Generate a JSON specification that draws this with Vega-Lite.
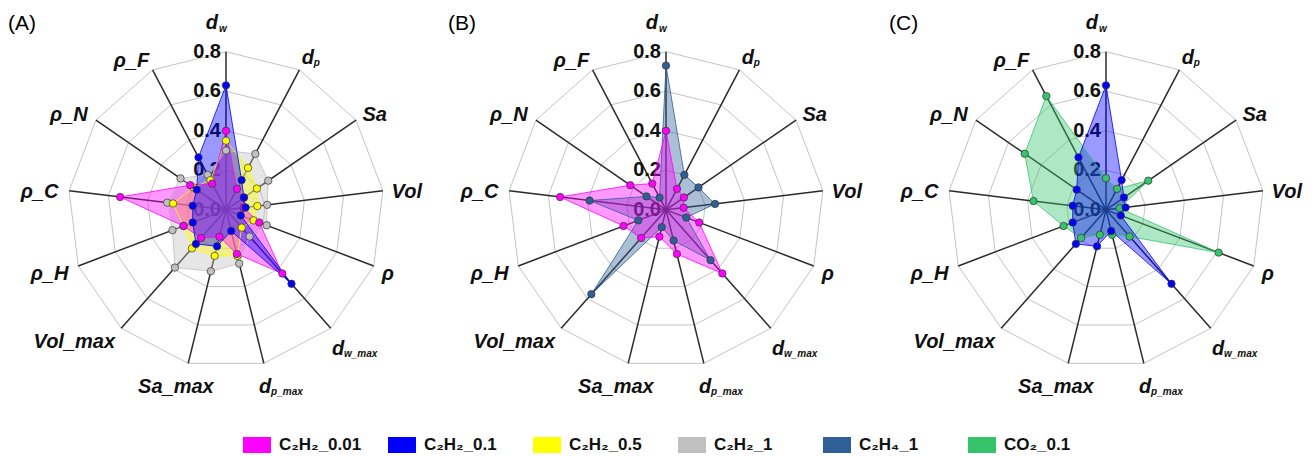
{
"$schema":"https://vega.github.io/schema/vega-lite/v6.json",
"padding":{"left":8,"top":12,"right":0,"bottom":0},
"spacing":30,
"bounds":"flush",
"datasets":{
"axes":[
{"idx":0,"main":"d","sub":"w","grid":[0.2,0.4,0.6,0.8]},
{"idx":1,"main":"d","sub":"p","grid":[0.2,0.4,0.6,0.8]},
{"idx":2,"main":"Sa","sub":"","grid":[0.2,0.4,0.6,0.8]},
{"idx":3,"main":"Vol","sub":"","grid":[0.2,0.4,0.6,0.8]},
{"idx":4,"main":"ρ","sub":"","grid":[0.2,0.4,0.6,0.8]},
{"idx":5,"main":"d","sub":"w_max","grid":[0.2,0.4,0.6,0.8]},
{"idx":6,"main":"d","sub":"p_max","grid":[0.2,0.4,0.6,0.8]},
{"idx":7,"main":"Sa_max","sub":"","grid":[0.2,0.4,0.6,0.8]},
{"idx":8,"main":"Vol_max","sub":"","grid":[0.2,0.4,0.6,0.8]},
{"idx":9,"main":"ρ_H","sub":"","grid":[0.2,0.4,0.6,0.8]},
{"idx":10,"main":"ρ_C","sub":"","grid":[0.2,0.4,0.6,0.8]},
{"idx":11,"main":"ρ_N","sub":"","grid":[0.2,0.4,0.6,0.8]},
{"idx":12,"main":"ρ_F","sub":"","grid":[0.2,0.4,0.6,0.8]}
],
"ringvals":[{"level":0},{"level":0.2},{"level":0.4},{"level":0.6},{"level":0.8}],
"radar":[
{"panel":"A","series":"C₂H₂_1","idx":0,"value":0.30},{"panel":"A","series":"C₂H₂_1","idx":1,"value":0.32},{"panel":"A","series":"C₂H₂_1","idx":2,"value":0.26},{"panel":"A","series":"C₂H₂_1","idx":3,"value":0.21},{"panel":"A","series":"C₂H₂_1","idx":4,"value":0.22},{"panel":"A","series":"C₂H₂_1","idx":5,"value":0.18},{"panel":"A","series":"C₂H₂_1","idx":6,"value":0.28},{"panel":"A","series":"C₂H₂_1","idx":7,"value":0.32},{"panel":"A","series":"C₂H₂_1","idx":8,"value":0.39},{"panel":"A","series":"C₂H₂_1","idx":9,"value":0.29},{"panel":"A","series":"C₂H₂_1","idx":10,"value":0.30},{"panel":"A","series":"C₂H₂_1","idx":11,"value":0.28},{"panel":"A","series":"C₂H₂_1","idx":12,"value":0.20},
{"panel":"A","series":"C₂H₂_0.5","idx":0,"value":0.35},{"panel":"A","series":"C₂H₂_0.5","idx":1,"value":0.24},{"panel":"A","series":"C₂H₂_0.5","idx":2,"value":0.19},{"panel":"A","series":"C₂H₂_0.5","idx":3,"value":0.16},{"panel":"A","series":"C₂H₂_0.5","idx":4,"value":0.15},{"panel":"A","series":"C₂H₂_0.5","idx":5,"value":0.12},{"panel":"A","series":"C₂H₂_0.5","idx":6,"value":0.24},{"panel":"A","series":"C₂H₂_0.5","idx":7,"value":0.24},{"panel":"A","series":"C₂H₂_0.5","idx":8,"value":0.26},{"panel":"A","series":"C₂H₂_0.5","idx":9,"value":0.23},{"panel":"A","series":"C₂H₂_0.5","idx":10,"value":0.27},{"panel":"A","series":"C₂H₂_0.5","idx":11,"value":0.20},{"panel":"A","series":"C₂H₂_0.5","idx":12,"value":0.17},
{"panel":"A","series":"C₂H₂_0.01","idx":0,"value":0.40},{"panel":"A","series":"C₂H₂_0.01","idx":1,"value":0.12},{"panel":"A","series":"C₂H₂_0.01","idx":2,"value":0.11},{"panel":"A","series":"C₂H₂_0.01","idx":3,"value":0.09},{"panel":"A","series":"C₂H₂_0.01","idx":4,"value":0.18},{"panel":"A","series":"C₂H₂_0.01","idx":5,"value":0.43},{"panel":"A","series":"C₂H₂_0.01","idx":6,"value":0.23},{"panel":"A","series":"C₂H₂_0.01","idx":7,"value":0.14},{"panel":"A","series":"C₂H₂_0.01","idx":8,"value":0.19},{"panel":"A","series":"C₂H₂_0.01","idx":9,"value":0.23},{"panel":"A","series":"C₂H₂_0.01","idx":10,"value":0.54},{"panel":"A","series":"C₂H₂_0.01","idx":11,"value":0.22},{"panel":"A","series":"C₂H₂_0.01","idx":12,"value":0.15},
{"panel":"A","series":"C₂H₂_0.1","idx":0,"value":0.63},{"panel":"A","series":"C₂H₂_0.1","idx":1,"value":0.17},{"panel":"A","series":"C₂H₂_0.1","idx":2,"value":0.11},{"panel":"A","series":"C₂H₂_0.1","idx":3,"value":0.10},{"panel":"A","series":"C₂H₂_0.1","idx":4,"value":0.08},{"panel":"A","series":"C₂H₂_0.1","idx":5,"value":0.50},{"panel":"A","series":"C₂H₂_0.1","idx":6,"value":0.11},{"panel":"A","series":"C₂H₂_0.1","idx":7,"value":0.19},{"panel":"A","series":"C₂H₂_0.1","idx":8,"value":0.23},{"panel":"A","series":"C₂H₂_0.1","idx":9,"value":0.18},{"panel":"A","series":"C₂H₂_0.1","idx":10,"value":0.17},{"panel":"A","series":"C₂H₂_0.1","idx":11,"value":0.18},{"panel":"A","series":"C₂H₂_0.1","idx":12,"value":0.30},
{"panel":"B","series":"C₂H₄_1","idx":0,"value":0.73},{"panel":"B","series":"C₂H₄_1","idx":1,"value":0.20},{"panel":"B","series":"C₂H₄_1","idx":2,"value":0.20},{"panel":"B","series":"C₂H₄_1","idx":3,"value":0.25},{"panel":"B","series":"C₂H₄_1","idx":4,"value":0.11},{"panel":"B","series":"C₂H₄_1","idx":5,"value":0.34},{"panel":"B","series":"C₂H₄_1","idx":6,"value":0.16},{"panel":"B","series":"C₂H₄_1","idx":7,"value":0.09},{"panel":"B","series":"C₂H₄_1","idx":8,"value":0.57},{"panel":"B","series":"C₂H₄_1","idx":9,"value":0.15},{"panel":"B","series":"C₂H₄_1","idx":10,"value":0.39},{"panel":"B","series":"C₂H₄_1","idx":11,"value":0.12},{"panel":"B","series":"C₂H₄_1","idx":12,"value":0.07},
{"panel":"B","series":"C₂H₂_0.01","idx":0,"value":0.40},{"panel":"B","series":"C₂H₂_0.01","idx":1,"value":0.12},{"panel":"B","series":"C₂H₂_0.01","idx":2,"value":0.11},{"panel":"B","series":"C₂H₂_0.01","idx":3,"value":0.09},{"panel":"B","series":"C₂H₂_0.01","idx":4,"value":0.18},{"panel":"B","series":"C₂H₂_0.01","idx":5,"value":0.43},{"panel":"B","series":"C₂H₂_0.01","idx":6,"value":0.23},{"panel":"B","series":"C₂H₂_0.01","idx":7,"value":0.14},{"panel":"B","series":"C₂H₂_0.01","idx":8,"value":0.19},{"panel":"B","series":"C₂H₂_0.01","idx":9,"value":0.23},{"panel":"B","series":"C₂H₂_0.01","idx":10,"value":0.54},{"panel":"B","series":"C₂H₂_0.01","idx":11,"value":0.22},{"panel":"B","series":"C₂H₂_0.01","idx":12,"value":0.15},
{"panel":"C","series":"CO₂_0.1","idx":0,"value":0.16},{"panel":"C","series":"CO₂_0.1","idx":1,"value":0.12},{"panel":"C","series":"CO₂_0.1","idx":2,"value":0.26},{"panel":"C","series":"CO₂_0.1","idx":3,"value":0.07},{"panel":"C","series":"CO₂_0.1","idx":4,"value":0.61},{"panel":"C","series":"CO₂_0.1","idx":5,"value":0.18},{"panel":"C","series":"CO₂_0.1","idx":6,"value":0.13},{"panel":"C","series":"CO₂_0.1","idx":7,"value":0.13},{"panel":"C","series":"CO₂_0.1","idx":8,"value":0.19},{"panel":"C","series":"CO₂_0.1","idx":9,"value":0.23},{"panel":"C","series":"CO₂_0.1","idx":10,"value":0.37},{"panel":"C","series":"CO₂_0.1","idx":11,"value":0.50},{"panel":"C","series":"CO₂_0.1","idx":12,"value":0.65},
{"panel":"C","series":"C₂H₂_0.1","idx":0,"value":0.63},{"panel":"C","series":"C₂H₂_0.1","idx":1,"value":0.17},{"panel":"C","series":"C₂H₂_0.1","idx":2,"value":0.11},{"panel":"C","series":"C₂H₂_0.1","idx":3,"value":0.10},{"panel":"C","series":"C₂H₂_0.1","idx":4,"value":0.08},{"panel":"C","series":"C₂H₂_0.1","idx":5,"value":0.50},{"panel":"C","series":"C₂H₂_0.1","idx":6,"value":0.11},{"panel":"C","series":"C₂H₂_0.1","idx":7,"value":0.19},{"panel":"C","series":"C₂H₂_0.1","idx":8,"value":0.23},{"panel":"C","series":"C₂H₂_0.1","idx":9,"value":0.18},{"panel":"C","series":"C₂H₂_0.1","idx":10,"value":0.17},{"panel":"C","series":"C₂H₂_0.1","idx":11,"value":0.18},{"panel":"C","series":"C₂H₂_0.1","idx":12,"value":0.30}
]
},
"resolve":{"scale":{"color":"shared"},"legend":{"color":"shared"}},
"hconcat":[
{
"width":410,"height":383,
"title":{"text":"(A)","anchor":"start","frame":"group","fontSize":21,"fontWeight":"normal","font":"Liberation Sans","dx":-13,"offset":-21},
"encoding":{
"x":{"field":"x","type":"quantitative","scale":{"domain":[-1.038,1.038],"nice":false,"zero":false},"axis":null},
"y":{"field":"y","type":"quantitative","scale":{"domain":[-1.038,0.9],"nice":false,"zero":false},"axis":null}
},
"layer":[
{"data":{"name":"axes"},"transform":[{"flatten":["grid"]},{"calculate":"2*PI*datum.idx/13","as":"ang"},{"calculate":"datum.grid*sin(datum.ang)","as":"x"},{"calculate":"datum.grid*cos(datum.ang)","as":"y"}],
"mark":{"type":"line","interpolate":"linear-closed","stroke":"#c4c4c4","strokeWidth":1},
"encoding":{"detail":{"field":"grid","type":"nominal"},"order":{"field":"idx","type":"quantitative"}}},
{"data":{"name":"axes"},"transform":[{"calculate":"2*PI*datum.idx/13","as":"ang"},{"calculate":"0.8*sin(datum.ang)","as":"x"},{"calculate":"0.8*cos(datum.ang)","as":"y"}],
"mark":{"type":"rule","stroke":"#2a2a2a","strokeWidth":1.5},
"encoding":{"x2":{"datum":0},"y2":{"datum":0}}},
{"data":{"name":"ringvals"},"transform":[{"calculate":"0","as":"x"},{"calculate":"datum.level","as":"y"},{"calculate":"format(datum.level,'.1f')","as":"lab"}],
"mark":{"type":"text","align":"right","baseline":"middle","dx":-5,"fontSize":20,"fontWeight":"bold","font":"Liberation Sans","color":"#111"},
"encoding":{"text":{"field":"lab","type":"nominal"}}},
{"data":{"name":"radar"},"transform":[{"filter":"datum.panel==='A'"},{"calculate":"2*PI*datum.idx/13","as":"ang"},{"calculate":"datum.value*sin(datum.ang)","as":"x"},{"calculate":"datum.value*cos(datum.ang)","as":"y"}],
"mark":{"type":"line","interpolate":"linear-closed","filled":true,"fillOpacity":0.4},
"encoding":{"color":{"field":"series","type":"nominal","scale":{"domain":["C₂H₂_0.01","C₂H₂_0.1","C₂H₂_0.5","C₂H₂_1","C₂H₄_1","CO₂_0.1"],"range":["#ff00ff","#0000ff","#ffff00","#c0c0c0","#2f5f97","#35c46a"]},"legend":{"title":null,"orient":"none","legendX":226,"legendY":403,"symbolType":"M-1.4,-0.8H1.4V0.8H-1.4Z","encode":{"symbols":{"update":{"fill":{"scale":"color","field":"value"},"fillOpacity":{"value":1},"opacity":{"value":1},"strokeWidth":{"value":0}}}}}},"order":{"field":"idx","type":"quantitative"}}},
{"data":{"name":"radar"},"transform":[{"filter":"datum.panel==='A'"},{"calculate":"2*PI*datum.idx/13","as":"ang"},{"calculate":"datum.value*sin(datum.ang)","as":"x"},{"calculate":"datum.value*cos(datum.ang)","as":"y"}],
"mark":{"type":"line","interpolate":"linear-closed","strokeWidth":1,"opacity":0.8},
"encoding":{"color":{"field":"series","type":"nominal","legend":{"title":null,"orient":"none","legendX":226,"legendY":403,"symbolType":"M-1.4,-0.8H1.4V0.8H-1.4Z","encode":{"symbols":{"update":{"fill":{"scale":"color","field":"value"},"fillOpacity":{"value":1},"opacity":{"value":1},"strokeWidth":{"value":0}}}}}},"order":{"field":"idx","type":"quantitative"}}},
{"data":{"name":"radar"},"transform":[{"filter":"datum.panel==='A'"},{"calculate":"2*PI*datum.idx/13","as":"ang"},{"calculate":"datum.value*sin(datum.ang)","as":"x"},{"calculate":"datum.value*cos(datum.ang)","as":"y"}],
"mark":{"type":"circle","size":55,"opacity":1,"stroke":"#333","strokeWidth":0.7},
"encoding":{"color":{"field":"series","type":"nominal","legend":{"title":null,"orient":"none","legendX":226,"legendY":403,"symbolType":"M-1.4,-0.8H1.4V0.8H-1.4Z","encode":{"symbols":{"update":{"fill":{"scale":"color","field":"value"},"fillOpacity":{"value":1},"opacity":{"value":1},"strokeWidth":{"value":0}}}}}}}},
{"data":{"name":"axes"},"transform":[{"calculate":"2*PI*datum.idx/13","as":"ang"},{"calculate":"0.87*sin(datum.ang)","as":"x"},{"calculate":"0.87*cos(datum.ang)","as":"y"},{"filter":"datum.idx>=2 && datum.idx<=4"}],
"mark":{"type":"text","align":"left","baseline":"middle","dx":-5,"dy":3,"fontSize":20,"fontWeight":"bold","fontStyle":"italic","font":"Liberation Sans","color":"#111"},"encoding":{"text":{"field":"main"}}},
{"data":{"name":"axes"},"transform":[{"calculate":"2*PI*datum.idx/13","as":"ang"},{"calculate":"0.87*sin(datum.ang)","as":"x"},{"calculate":"0.87*cos(datum.ang)","as":"y"},{"filter":"datum.idx>=8"}],
"mark":{"type":"text","align":"right","baseline":"middle","dx":3,"dy":3,"fontSize":20,"fontWeight":"bold","fontStyle":"italic","font":"Liberation Sans","color":"#111"},"encoding":{"text":{"field":"main"}}},
{"data":{"name":"axes"},"transform":[{"calculate":"2*PI*datum.idx/13","as":"ang"},{"calculate":"0.87*sin(datum.ang)","as":"x"},{"calculate":"0.87*cos(datum.ang)","as":"y"},{"filter":"datum.idx==7"}],
"mark":{"type":"text","align":"center","baseline":"top","dx":-9,"fontSize":20,"fontWeight":"bold","fontStyle":"italic","font":"Liberation Sans","color":"#111"},"encoding":{"text":{"field":"main"}}},
{"data":{"name":"axes"},"transform":[{"calculate":"2*PI*datum.idx/13","as":"ang"},{"calculate":"0.87*sin(datum.ang)","as":"x"},{"calculate":"0.87*cos(datum.ang)","as":"y"},{"filter":"datum.idx==0"}],
"mark":{"type":"text","align":"right","baseline":"bottom","dx":-8,"dy":-5,"fontSize":20,"fontWeight":"bold","fontStyle":"italic","font":"Liberation Sans","color":"#111"},"encoding":{"text":{"field":"main"}}},
{"data":{"name":"axes"},"transform":[{"calculate":"2*PI*datum.idx/13","as":"ang"},{"calculate":"0.87*sin(datum.ang)","as":"x"},{"calculate":"0.87*cos(datum.ang)","as":"y"},{"filter":"datum.idx==0"}],
"mark":{"type":"text","align":"left","baseline":"bottom","dx":-7,"dy":-4,"fontSize":10,"fontWeight":"bold","fontStyle":"italic","font":"Liberation Sans","color":"#111"},"encoding":{"text":{"field":"sub"}}},
{"data":{"name":"axes"},"transform":[{"calculate":"2*PI*datum.idx/13","as":"ang"},{"calculate":"0.87*sin(datum.ang)","as":"x"},{"calculate":"0.87*cos(datum.ang)","as":"y"},{"filter":"datum.idx==1"}],
"mark":{"type":"text","align":"left","baseline":"middle","dx":-4,"fontSize":20,"fontWeight":"bold","fontStyle":"italic","font":"Liberation Sans","color":"#111"},"encoding":{"text":{"field":"main"}}},
{"data":{"name":"axes"},"transform":[{"calculate":"2*PI*datum.idx/13","as":"ang"},{"calculate":"0.87*sin(datum.ang)","as":"x"},{"calculate":"0.87*cos(datum.ang)","as":"y"},{"filter":"datum.idx==1"}],
"mark":{"type":"text","align":"left","baseline":"middle","dx":8,"dy":5,"fontSize":10,"fontWeight":"bold","fontStyle":"italic","font":"Liberation Sans","color":"#111"},"encoding":{"text":{"field":"sub"}}},
{"data":{"name":"axes"},"transform":[{"calculate":"2*PI*datum.idx/13","as":"ang"},{"calculate":"0.87*sin(datum.ang)","as":"x"},{"calculate":"0.87*cos(datum.ang)","as":"y"},{"filter":"datum.idx==5 || datum.idx==6"}],
"mark":{"type":"text","align":"left","baseline":"middle","dx":-8,"dy":10,"fontSize":20,"fontWeight":"bold","fontStyle":"italic","font":"Liberation Sans","color":"#111"},"encoding":{"text":{"field":"main"}}},
{"data":{"name":"axes"},"transform":[{"calculate":"2*PI*datum.idx/13","as":"ang"},{"calculate":"0.87*sin(datum.ang)","as":"x"},{"calculate":"0.87*cos(datum.ang)","as":"y"},{"filter":"datum.idx==5 || datum.idx==6"}],
"mark":{"type":"text","align":"left","baseline":"middle","dx":4,"dy":15,"fontSize":10,"fontWeight":"bold","fontStyle":"italic","font":"Liberation Sans","color":"#111"},"encoding":{"text":{"field":"sub"}}}
]
},
{
"width":410,"height":383,
"title":{"text":"(B)","anchor":"start","frame":"group","fontSize":21,"fontWeight":"normal","font":"Liberation Sans","dx":-13,"offset":-21},
"encoding":{
"x":{"field":"x","type":"quantitative","scale":{"domain":[-1.038,1.038],"nice":false,"zero":false},"axis":null},
"y":{"field":"y","type":"quantitative","scale":{"domain":[-1.038,0.9],"nice":false,"zero":false},"axis":null}
},
"layer":[
{"data":{"name":"axes"},"transform":[{"flatten":["grid"]},{"calculate":"2*PI*datum.idx/13","as":"ang"},{"calculate":"datum.grid*sin(datum.ang)","as":"x"},{"calculate":"datum.grid*cos(datum.ang)","as":"y"}],
"mark":{"type":"line","interpolate":"linear-closed","stroke":"#c4c4c4","strokeWidth":1},
"encoding":{"detail":{"field":"grid","type":"nominal"},"order":{"field":"idx","type":"quantitative"}}},
{"data":{"name":"axes"},"transform":[{"calculate":"2*PI*datum.idx/13","as":"ang"},{"calculate":"0.8*sin(datum.ang)","as":"x"},{"calculate":"0.8*cos(datum.ang)","as":"y"}],
"mark":{"type":"rule","stroke":"#2a2a2a","strokeWidth":1.5},
"encoding":{"x2":{"datum":0},"y2":{"datum":0}}},
{"data":{"name":"ringvals"},"transform":[{"calculate":"0","as":"x"},{"calculate":"datum.level","as":"y"},{"calculate":"format(datum.level,'.1f')","as":"lab"}],
"mark":{"type":"text","align":"right","baseline":"middle","dx":-5,"fontSize":20,"fontWeight":"bold","font":"Liberation Sans","color":"#111"},
"encoding":{"text":{"field":"lab","type":"nominal"}}},
{"data":{"name":"radar"},"transform":[{"filter":"datum.panel==='B'"},{"calculate":"2*PI*datum.idx/13","as":"ang"},{"calculate":"datum.value*sin(datum.ang)","as":"x"},{"calculate":"datum.value*cos(datum.ang)","as":"y"}],
"mark":{"type":"line","interpolate":"linear-closed","filled":true,"fillOpacity":0.4},
"encoding":{"color":{"field":"series","type":"nominal","legend":{"title":null,"orient":"none","legendX":226,"legendY":403,"symbolType":"M-1.4,-0.8H1.4V0.8H-1.4Z","encode":{"symbols":{"update":{"fill":{"scale":"color","field":"value"},"fillOpacity":{"value":1},"opacity":{"value":1},"strokeWidth":{"value":0}}}}}},"order":{"field":"idx","type":"quantitative"}}},
{"data":{"name":"radar"},"transform":[{"filter":"datum.panel==='B'"},{"calculate":"2*PI*datum.idx/13","as":"ang"},{"calculate":"datum.value*sin(datum.ang)","as":"x"},{"calculate":"datum.value*cos(datum.ang)","as":"y"}],
"mark":{"type":"line","interpolate":"linear-closed","strokeWidth":1,"opacity":0.8},
"encoding":{"color":{"field":"series","type":"nominal","legend":{"title":null,"orient":"none","legendX":226,"legendY":403,"symbolType":"M-1.4,-0.8H1.4V0.8H-1.4Z","encode":{"symbols":{"update":{"fill":{"scale":"color","field":"value"},"fillOpacity":{"value":1},"opacity":{"value":1},"strokeWidth":{"value":0}}}}}},"order":{"field":"idx","type":"quantitative"}}},
{"data":{"name":"radar"},"transform":[{"filter":"datum.panel==='B'"},{"calculate":"2*PI*datum.idx/13","as":"ang"},{"calculate":"datum.value*sin(datum.ang)","as":"x"},{"calculate":"datum.value*cos(datum.ang)","as":"y"}],
"mark":{"type":"circle","size":55,"opacity":1,"stroke":"#333","strokeWidth":0.7},
"encoding":{"color":{"field":"series","type":"nominal","legend":{"title":null,"orient":"none","legendX":226,"legendY":403,"symbolType":"M-1.4,-0.8H1.4V0.8H-1.4Z","encode":{"symbols":{"update":{"fill":{"scale":"color","field":"value"},"fillOpacity":{"value":1},"opacity":{"value":1},"strokeWidth":{"value":0}}}}}}}},
{"data":{"name":"axes"},"transform":[{"calculate":"2*PI*datum.idx/13","as":"ang"},{"calculate":"0.87*sin(datum.ang)","as":"x"},{"calculate":"0.87*cos(datum.ang)","as":"y"},{"filter":"datum.idx>=2 && datum.idx<=4"}],
"mark":{"type":"text","align":"left","baseline":"middle","dx":-5,"dy":3,"fontSize":20,"fontWeight":"bold","fontStyle":"italic","font":"Liberation Sans","color":"#111"},"encoding":{"text":{"field":"main"}}},
{"data":{"name":"axes"},"transform":[{"calculate":"2*PI*datum.idx/13","as":"ang"},{"calculate":"0.87*sin(datum.ang)","as":"x"},{"calculate":"0.87*cos(datum.ang)","as":"y"},{"filter":"datum.idx>=8"}],
"mark":{"type":"text","align":"right","baseline":"middle","dx":3,"dy":3,"fontSize":20,"fontWeight":"bold","fontStyle":"italic","font":"Liberation Sans","color":"#111"},"encoding":{"text":{"field":"main"}}},
{"data":{"name":"axes"},"transform":[{"calculate":"2*PI*datum.idx/13","as":"ang"},{"calculate":"0.87*sin(datum.ang)","as":"x"},{"calculate":"0.87*cos(datum.ang)","as":"y"},{"filter":"datum.idx==7"}],
"mark":{"type":"text","align":"center","baseline":"top","dx":-9,"fontSize":20,"fontWeight":"bold","fontStyle":"italic","font":"Liberation Sans","color":"#111"},"encoding":{"text":{"field":"main"}}},
{"data":{"name":"axes"},"transform":[{"calculate":"2*PI*datum.idx/13","as":"ang"},{"calculate":"0.87*sin(datum.ang)","as":"x"},{"calculate":"0.87*cos(datum.ang)","as":"y"},{"filter":"datum.idx==0"}],
"mark":{"type":"text","align":"right","baseline":"bottom","dx":-8,"dy":-5,"fontSize":20,"fontWeight":"bold","fontStyle":"italic","font":"Liberation Sans","color":"#111"},"encoding":{"text":{"field":"main"}}},
{"data":{"name":"axes"},"transform":[{"calculate":"2*PI*datum.idx/13","as":"ang"},{"calculate":"0.87*sin(datum.ang)","as":"x"},{"calculate":"0.87*cos(datum.ang)","as":"y"},{"filter":"datum.idx==0"}],
"mark":{"type":"text","align":"left","baseline":"bottom","dx":-7,"dy":-4,"fontSize":10,"fontWeight":"bold","fontStyle":"italic","font":"Liberation Sans","color":"#111"},"encoding":{"text":{"field":"sub"}}},
{"data":{"name":"axes"},"transform":[{"calculate":"2*PI*datum.idx/13","as":"ang"},{"calculate":"0.87*sin(datum.ang)","as":"x"},{"calculate":"0.87*cos(datum.ang)","as":"y"},{"filter":"datum.idx==1"}],
"mark":{"type":"text","align":"left","baseline":"middle","dx":-4,"fontSize":20,"fontWeight":"bold","fontStyle":"italic","font":"Liberation Sans","color":"#111"},"encoding":{"text":{"field":"main"}}},
{"data":{"name":"axes"},"transform":[{"calculate":"2*PI*datum.idx/13","as":"ang"},{"calculate":"0.87*sin(datum.ang)","as":"x"},{"calculate":"0.87*cos(datum.ang)","as":"y"},{"filter":"datum.idx==1"}],
"mark":{"type":"text","align":"left","baseline":"middle","dx":8,"dy":5,"fontSize":10,"fontWeight":"bold","fontStyle":"italic","font":"Liberation Sans","color":"#111"},"encoding":{"text":{"field":"sub"}}},
{"data":{"name":"axes"},"transform":[{"calculate":"2*PI*datum.idx/13","as":"ang"},{"calculate":"0.87*sin(datum.ang)","as":"x"},{"calculate":"0.87*cos(datum.ang)","as":"y"},{"filter":"datum.idx==5 || datum.idx==6"}],
"mark":{"type":"text","align":"left","baseline":"middle","dx":-8,"dy":10,"fontSize":20,"fontWeight":"bold","fontStyle":"italic","font":"Liberation Sans","color":"#111"},"encoding":{"text":{"field":"main"}}},
{"data":{"name":"axes"},"transform":[{"calculate":"2*PI*datum.idx/13","as":"ang"},{"calculate":"0.87*sin(datum.ang)","as":"x"},{"calculate":"0.87*cos(datum.ang)","as":"y"},{"filter":"datum.idx==5 || datum.idx==6"}],
"mark":{"type":"text","align":"left","baseline":"middle","dx":4,"dy":15,"fontSize":10,"fontWeight":"bold","fontStyle":"italic","font":"Liberation Sans","color":"#111"},"encoding":{"text":{"field":"sub"}}}
]
},
{
"width":410,"height":383,
"title":{"text":"(C)","anchor":"start","frame":"group","fontSize":21,"fontWeight":"normal","font":"Liberation Sans","dx":-12,"offset":-21},
"encoding":{
"x":{"field":"x","type":"quantitative","scale":{"domain":[-1.038,1.038],"nice":false,"zero":false},"axis":null},
"y":{"field":"y","type":"quantitative","scale":{"domain":[-1.038,0.9],"nice":false,"zero":false},"axis":null}
},
"layer":[
{"data":{"name":"axes"},"transform":[{"flatten":["grid"]},{"calculate":"2*PI*datum.idx/13","as":"ang"},{"calculate":"datum.grid*sin(datum.ang)","as":"x"},{"calculate":"datum.grid*cos(datum.ang)","as":"y"}],
"mark":{"type":"line","interpolate":"linear-closed","stroke":"#c4c4c4","strokeWidth":1},
"encoding":{"detail":{"field":"grid","type":"nominal"},"order":{"field":"idx","type":"quantitative"}}},
{"data":{"name":"axes"},"transform":[{"calculate":"2*PI*datum.idx/13","as":"ang"},{"calculate":"0.8*sin(datum.ang)","as":"x"},{"calculate":"0.8*cos(datum.ang)","as":"y"}],
"mark":{"type":"rule","stroke":"#2a2a2a","strokeWidth":1.5},
"encoding":{"x2":{"datum":0},"y2":{"datum":0}}},
{"data":{"name":"ringvals"},"transform":[{"calculate":"0","as":"x"},{"calculate":"datum.level","as":"y"},{"calculate":"format(datum.level,'.1f')","as":"lab"}],
"mark":{"type":"text","align":"right","baseline":"middle","dx":-5,"fontSize":20,"fontWeight":"bold","font":"Liberation Sans","color":"#111"},
"encoding":{"text":{"field":"lab","type":"nominal"}}},
{"data":{"name":"radar"},"transform":[{"filter":"datum.panel==='C'"},{"calculate":"2*PI*datum.idx/13","as":"ang"},{"calculate":"datum.value*sin(datum.ang)","as":"x"},{"calculate":"datum.value*cos(datum.ang)","as":"y"}],
"mark":{"type":"line","interpolate":"linear-closed","filled":true,"fillOpacity":0.4},
"encoding":{"color":{"field":"series","type":"nominal","legend":{"title":null,"orient":"none","legendX":226,"legendY":403,"symbolType":"M-1.4,-0.8H1.4V0.8H-1.4Z","encode":{"symbols":{"update":{"fill":{"scale":"color","field":"value"},"fillOpacity":{"value":1},"opacity":{"value":1},"strokeWidth":{"value":0}}}}}},"order":{"field":"idx","type":"quantitative"}}},
{"data":{"name":"radar"},"transform":[{"filter":"datum.panel==='C'"},{"calculate":"2*PI*datum.idx/13","as":"ang"},{"calculate":"datum.value*sin(datum.ang)","as":"x"},{"calculate":"datum.value*cos(datum.ang)","as":"y"}],
"mark":{"type":"line","interpolate":"linear-closed","strokeWidth":1,"opacity":0.8},
"encoding":{"color":{"field":"series","type":"nominal","legend":{"title":null,"orient":"none","legendX":226,"legendY":403,"symbolType":"M-1.4,-0.8H1.4V0.8H-1.4Z","encode":{"symbols":{"update":{"fill":{"scale":"color","field":"value"},"fillOpacity":{"value":1},"opacity":{"value":1},"strokeWidth":{"value":0}}}}}},"order":{"field":"idx","type":"quantitative"}}},
{"data":{"name":"radar"},"transform":[{"filter":"datum.panel==='C'"},{"calculate":"2*PI*datum.idx/13","as":"ang"},{"calculate":"datum.value*sin(datum.ang)","as":"x"},{"calculate":"datum.value*cos(datum.ang)","as":"y"}],
"mark":{"type":"circle","size":55,"opacity":1,"stroke":"#333","strokeWidth":0.7},
"encoding":{"color":{"field":"series","type":"nominal","legend":{"title":null,"orient":"none","legendX":226,"legendY":403,"symbolType":"M-1.4,-0.8H1.4V0.8H-1.4Z","encode":{"symbols":{"update":{"fill":{"scale":"color","field":"value"},"fillOpacity":{"value":1},"opacity":{"value":1},"strokeWidth":{"value":0}}}}}}}},
{"data":{"name":"axes"},"transform":[{"calculate":"2*PI*datum.idx/13","as":"ang"},{"calculate":"0.87*sin(datum.ang)","as":"x"},{"calculate":"0.87*cos(datum.ang)","as":"y"},{"filter":"datum.idx>=2 && datum.idx<=4"}],
"mark":{"type":"text","align":"left","baseline":"middle","dx":-5,"dy":3,"fontSize":20,"fontWeight":"bold","fontStyle":"italic","font":"Liberation Sans","color":"#111"},"encoding":{"text":{"field":"main"}}},
{"data":{"name":"axes"},"transform":[{"calculate":"2*PI*datum.idx/13","as":"ang"},{"calculate":"0.87*sin(datum.ang)","as":"x"},{"calculate":"0.87*cos(datum.ang)","as":"y"},{"filter":"datum.idx>=8"}],
"mark":{"type":"text","align":"right","baseline":"middle","dx":3,"dy":3,"fontSize":20,"fontWeight":"bold","fontStyle":"italic","font":"Liberation Sans","color":"#111"},"encoding":{"text":{"field":"main"}}},
{"data":{"name":"axes"},"transform":[{"calculate":"2*PI*datum.idx/13","as":"ang"},{"calculate":"0.87*sin(datum.ang)","as":"x"},{"calculate":"0.87*cos(datum.ang)","as":"y"},{"filter":"datum.idx==7"}],
"mark":{"type":"text","align":"center","baseline":"top","dx":-9,"fontSize":20,"fontWeight":"bold","fontStyle":"italic","font":"Liberation Sans","color":"#111"},"encoding":{"text":{"field":"main"}}},
{"data":{"name":"axes"},"transform":[{"calculate":"2*PI*datum.idx/13","as":"ang"},{"calculate":"0.87*sin(datum.ang)","as":"x"},{"calculate":"0.87*cos(datum.ang)","as":"y"},{"filter":"datum.idx==0"}],
"mark":{"type":"text","align":"right","baseline":"bottom","dx":-8,"dy":-5,"fontSize":20,"fontWeight":"bold","fontStyle":"italic","font":"Liberation Sans","color":"#111"},"encoding":{"text":{"field":"main"}}},
{"data":{"name":"axes"},"transform":[{"calculate":"2*PI*datum.idx/13","as":"ang"},{"calculate":"0.87*sin(datum.ang)","as":"x"},{"calculate":"0.87*cos(datum.ang)","as":"y"},{"filter":"datum.idx==0"}],
"mark":{"type":"text","align":"left","baseline":"bottom","dx":-7,"dy":-4,"fontSize":10,"fontWeight":"bold","fontStyle":"italic","font":"Liberation Sans","color":"#111"},"encoding":{"text":{"field":"sub"}}},
{"data":{"name":"axes"},"transform":[{"calculate":"2*PI*datum.idx/13","as":"ang"},{"calculate":"0.87*sin(datum.ang)","as":"x"},{"calculate":"0.87*cos(datum.ang)","as":"y"},{"filter":"datum.idx==1"}],
"mark":{"type":"text","align":"left","baseline":"middle","dx":-4,"fontSize":20,"fontWeight":"bold","fontStyle":"italic","font":"Liberation Sans","color":"#111"},"encoding":{"text":{"field":"main"}}},
{"data":{"name":"axes"},"transform":[{"calculate":"2*PI*datum.idx/13","as":"ang"},{"calculate":"0.87*sin(datum.ang)","as":"x"},{"calculate":"0.87*cos(datum.ang)","as":"y"},{"filter":"datum.idx==1"}],
"mark":{"type":"text","align":"left","baseline":"middle","dx":8,"dy":5,"fontSize":10,"fontWeight":"bold","fontStyle":"italic","font":"Liberation Sans","color":"#111"},"encoding":{"text":{"field":"sub"}}},
{"data":{"name":"axes"},"transform":[{"calculate":"2*PI*datum.idx/13","as":"ang"},{"calculate":"0.87*sin(datum.ang)","as":"x"},{"calculate":"0.87*cos(datum.ang)","as":"y"},{"filter":"datum.idx==5 || datum.idx==6"}],
"mark":{"type":"text","align":"left","baseline":"middle","dx":-8,"dy":10,"fontSize":20,"fontWeight":"bold","fontStyle":"italic","font":"Liberation Sans","color":"#111"},"encoding":{"text":{"field":"main"}}},
{"data":{"name":"axes"},"transform":[{"calculate":"2*PI*datum.idx/13","as":"ang"},{"calculate":"0.87*sin(datum.ang)","as":"x"},{"calculate":"0.87*cos(datum.ang)","as":"y"},{"filter":"datum.idx==5 || datum.idx==6"}],
"mark":{"type":"text","align":"left","baseline":"middle","dx":4,"dy":15,"fontSize":10,"fontWeight":"bold","fontStyle":"italic","font":"Liberation Sans","color":"#111"},"encoding":{"text":{"field":"sub"}}}
]
}
],
"config":{
"view":{"stroke":null},
"font":"Liberation Sans",
"legend":{"direction":"horizontal","columns":6,"gridAlign":"all","columnPadding":26,"symbolSize":400,"symbolStrokeWidth":0,"symbolOpacity":1,"labelFontSize":17,"labelFontWeight":"bold","labelFont":"Liberation Sans","labelColor":"#111","labelOffset":12,"padding":0}
}
}
